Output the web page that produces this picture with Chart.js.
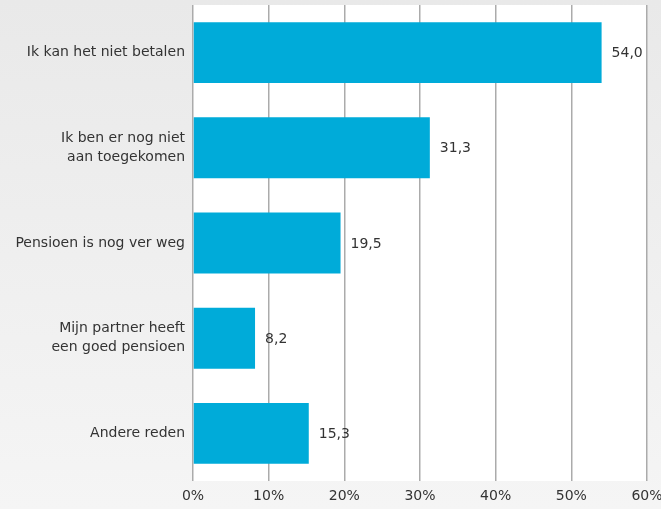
<!DOCTYPE html>
<html>
<head>
<meta charset="utf-8">
<script src="https://cdn.jsdelivr.net/npm/chart.js@4"></script>
<style>
    html, body { margin: 0; padding: 0; }
    body { width: 661px; height: 509px; background: linear-gradient(to bottom, #e9e9e9, #f5f5f5); }
    #wrap { width: 661px; height: 509px; }
</style>
</head>
<body>
<div id="wrap"><canvas id="redenenChart"></canvas></div>
<script>
const categories = [
    'Ik kan het niet betalen',
    ['Ik ben er nog niet', 'aan toegekomen'],
    'Pensioen is nog ver weg',
    ['Mijn partner heeft', 'een goed pensioen'],
    'Andere reden'
];
const percentages = [54.0, 31.3, 19.5, 8.2, 15.3];
const xTicks = [0, 10, 20, 30, 40, 50, 60];

const FONT = "'DejaVu Sans', sans-serif";

// witte achtergrond voor het plotgebied
const plotBackground = {
    id: 'plotBackground',
    beforeDraw(chart) {
        const { ctx, chartArea } = chart;
        ctx.save();
        ctx.fillStyle = '#ffffff';
        ctx.fillRect(chartArea.left, chartArea.top, chartArea.right - chartArea.left, chartArea.bottom - chartArea.top);
        ctx.restore();
    }
};

// waarden naast de balken
const valueLabels = {
    id: 'valueLabels',
    afterDatasetsDraw(chart) {
        const { ctx } = chart;
        const meta = chart.getDatasetMeta(0);
        ctx.save();
        ctx.font = '14px ' + FONT;
        ctx.fillStyle = '#333333';
        ctx.textAlign = 'left';
        ctx.textBaseline = 'middle';
        meta.data.forEach((bar, i) => {
            ctx.fillText(percentages[i].toFixed(1).replace('.', ','), bar.x + 10, bar.y + 1);
        });
        ctx.restore();
    }
};

const ctx = document.getElementById('redenenChart').getContext('2d');

new Chart(ctx, {
    type: 'bar',
    data: {
        labels: categories,
        datasets: [{
            data: percentages,
            backgroundColor: '#00abd9',
            borderWidth: 0,
            barPercentage: 0.8,
            categoryPercentage: 0.8
        }]
    },
    options: {
        indexAxis: 'y',
        responsive: true,
        maintainAspectRatio: false,
        animation: false,
        layout: { padding: { top: 5, right: 14, left: 0, bottom: 0 } },
        scales: {
            x: {
                min: 0,
                max: 60,
                afterBuildTicks(axis) {
                    axis.ticks = xTicks.map(v => ({ value: v }));
                },
                afterFit(axis) {
                    axis.height = 28;
                    axis.paddingLeft = 0;
                    axis.paddingRight = 0;
                },
                grid: { color: '#ababab', lineWidth: 1.5, drawTicks: false },
                border: { display: false },
                ticks: {
                    padding: 7,
                    color: '#333333',
                    font: { family: FONT, size: 14 },
                    callback: v => v + '%'
                }
            },
            y: {
                afterFit(axis) {
                    axis.width = 193;
                    axis.paddingTop = 0;
                    axis.paddingBottom = 0;
                },
                grid: { display: false, drawTicks: false },
                border: { display: false },
                ticks: {
                    padding: 8,
                    color: '#333333',
                    font: { family: FONT, size: 14, lineHeight: 1.35 }
                }
            }
        },
        plugins: {
            legend: { display: false },
            tooltip: { enabled: false }
        }
    },
    plugins: [plotBackground, valueLabels]
});
</script>
</body>
</html>
